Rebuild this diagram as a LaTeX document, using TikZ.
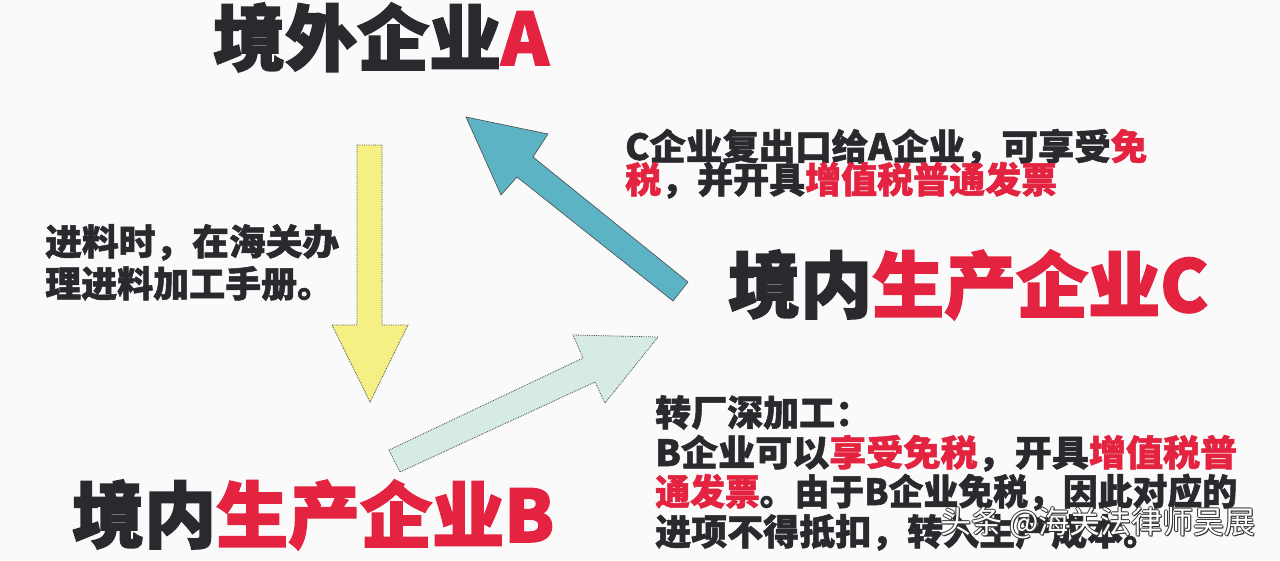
\documentclass[tikz,border=0pt]{standalone}
\usepackage{fontspec}
\usepackage{graphicx}
\setmainfont{Noto Sans CJK SC}[BoldFeatures={FakeBold=1.4}]
\newfontfamily\titlefont{Noto Sans CJK SC}[BoldFeatures={FakeBold=2.2}]
\newcommand{\fitto}[2]{\resizebox{#1}{\height}{#2}}
\definecolor{ink}{HTML}{2A2A2E}
\definecolor{hot}{HTML}{E3233F}
\definecolor{bgc}{HTML}{FAFAFA}
\definecolor{yelfill}{HTML}{F5F083}
\definecolor{tealfill}{HTML}{5CB3C3}
\definecolor{mintfill}{HTML}{D6ECE3}
\definecolor{edge}{HTML}{4A4A4A}
\begin{document}
\begin{tikzpicture}[x=1pt,y=-1pt,
  title/.style={font=\titlefont\fontsize{72}{80}\selectfont\bfseries, text=ink, inner sep=0pt, anchor=base west},
  body/.style={font=\fontsize{36}{40}\selectfont\bfseries, text=ink, inner sep=0pt, anchor=base west},
  wmark/.style={font=\fontsize{31}{34}\selectfont, inner sep=0pt, anchor=base west},
  yelarrow/.style={fill=yelfill, draw=edge, densely dotted, line width=0.8pt},
  tealarrow/.style={fill=tealfill, draw=edge, line width=0.6pt},
  mintarrow/.style={fill=mintfill, draw=edge, densely dotted, line width=0.8pt}]
\fill[bgc] (0,0) rectangle (1280,560);
\useasboundingbox (0,0) rectangle (1280,560);

% block arrows
\draw[yelarrow] (357,145) -- (382,145) -- (382,325) -- (408,325) -- (370,402) -- (332,325) -- (357,325) -- cycle;
\draw[tealarrow] (466,117) -- (548,134) -- (533,157) -- (688,282) -- (673,301) -- (517,177) -- (501,195) -- cycle;
\draw[mintarrow] (389,450) -- (583,358) -- (573,335) -- (658,337) -- (605,403) -- (595,382) -- (400,472) -- cycle;

% titles
\node[title] (A) at (213,65) {境外企业\textcolor{hot}{A}};
\node[title] (C) at (728,312) {境内\textcolor{hot}{生产企业C}};
\node[title] (B) at (72,542) {境内\textcolor{hot}{生产企业B}};

% left text
\node[body] (l1) at (45,255) {\fitto{294pt}{进料时，在海关办}};
\node[body] (l2) at (45,297) {理进料加工手册。};

% C text
\node[body] (c1) at (625,160) {\fitto{522pt}{C企业复出口给A企业，可享受\textcolor{hot}{免}}};
\node[body] (c2) at (625,193) {\textcolor{hot}{税}，并开具\textcolor{hot}{增值税普通发票}};

% bottom right text
\node[body] (b1) at (655,426) {转厂深加工：};
\node[body] (b2) at (655,466) {\fitto{582pt}{B企业可以\textcolor{hot}{享受免税}，开具\textcolor{hot}{增值税普}}};
\node[body] (b3) at (655,505) {\fitto{582pt}{\textcolor{hot}{通发票}。由于B企业免税，因此对应的}};
\node[body] (b4) at (655,545) {进项不得抵扣，转入生产成本。};

% watermark
\foreach \dx/\dy [count=\i] in {-1/0,1/0,0/-1,0/1,1/1}
  \node[wmark, text=black!80] (wm\i) at (940+\dx,533+\dy) {头条 @海关法律师吴展};
\node[wmark, text=white] (wm) at (940,533) {头条 @海关法律师吴展};
\end{tikzpicture}
\end{document}
